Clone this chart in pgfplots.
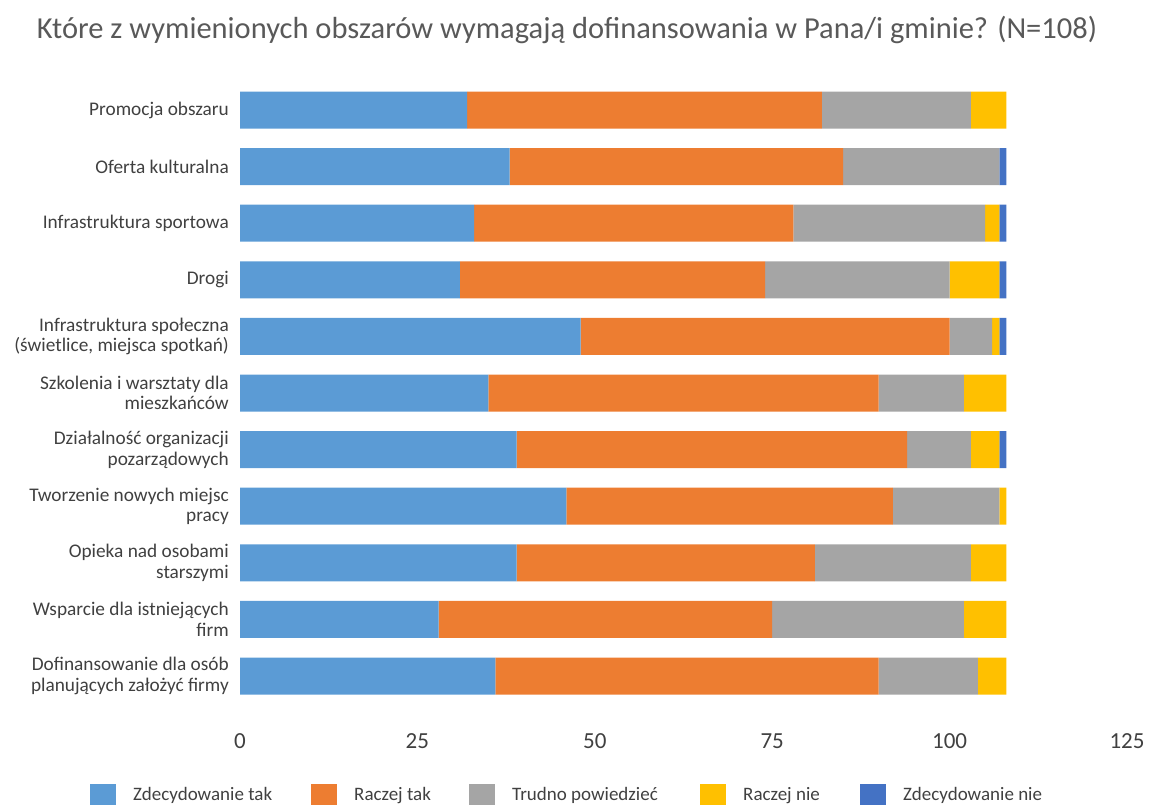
\documentclass[border=0pt]{standalone}
\usepackage{fontspec}
\setmainfont{Carlito}
\usepackage{pgfplots}
\pgfplotsset{compat=1.18}
\definecolor{cA}{HTML}{5B9BD5}
\definecolor{cB}{HTML}{ED7D31}
\definecolor{cC}{HTML}{A5A5A5}
\definecolor{cD}{HTML}{FFC000}
\definecolor{cE}{HTML}{4472C4}
\definecolor{titlegray}{HTML}{595959}
\definecolor{labgray}{HTML}{404040}
\begin{document}
\begin{tikzpicture}[x=1pt,y=1pt]
\useasboundingbox (0,0) rectangle (1150,804);
\node[text=titlegray, font=\fontsize{30.5}{34}\selectfont] at (567,774) {Które z wymienionych obszarów wymagają dofinansowania w Pana/i gminie? (N=108)};
\begin{axis}[
  at={(240pt,99.7pt)}, anchor=south west,
  scale only axis, width=887pt, height=622.6pt,
  xbar stacked, bar width=37pt,
  xmin=0, xmax=125, ymin=-0.5, ymax=10.5,
  y dir=reverse,
  axis line style={draw=none},
  major tick style={draw=none},
  xtick={0,25,50,75,100,125},
  ytick={0,1,2,3,4,5,6,7,8,9,10},
  yticklabels={
    Promocja obszaru,
    Oferta kulturalna,
    Infrastruktura sportowa,
    Drogi,
    {Infrastruktura społeczna\\(świetlice, miejsca spotkań)},
    {Szkolenia i warsztaty dla\\mieszkańców},
    {Działalność organizacji\\pozarządowych},
    {Tworzenie nowych miejsc\\pracy},
    {Opieka nad osobami\\starszymi},
    {Wsparcie dla istniejących\\firm},
    {Dofinansowanie dla osób\\planujących założyć firmy}},
  yticklabel style={align=right, inner sep=0pt, xshift=-11pt, text=labgray, font=\fontsize{19.3}{20.5}\selectfont},
  /pgf/number format/assume math mode=true,
  xticklabel style={anchor=center, yshift=-37pt, text=labgray, font=\fontsize{23}{26}\selectfont},
  legend columns=5,
  legend image code/.code={\fill[#1] (0pt,-11pt) rectangle (26pt,11pt);},
  legend style={draw=none, fill=none, at={(-0.1691,-0.1457)}, anchor=west, inner sep=0pt,
    nodes={inner sep=0pt, text=labgray, font=\fontsize{19}{22}\selectfont},
    /tikz/every odd column/.append style={column sep=17pt}},
]
\addplot[fill=cA, draw=none] coordinates {(32,0) (38,1) (33,2) (31,3) (48,4) (35,5) (39,6) (46,7) (39,8) (28,9) (36,10)};
\addplot[fill=cB, draw=none] coordinates {(50,0) (47,1) (45,2) (43,3) (52,4) (55,5) (55,6) (46,7) (42,8) (47,9) (54,10)};
\addplot[fill=cC, draw=none] coordinates {(21,0) (22,1) (27,2) (26,3) (6,4) (12,5) (9,6) (15,7) (22,8) (27,9) (14,10)};
\addplot[fill=cD, draw=none] coordinates {(5,0) (0,1) (2,2) (7,3) (1,4) (6,5) (4,6) (1,7) (5,8) (6,9) (4,10)};
\addplot[fill=cE, draw=none] coordinates {(0,0) (1,1) (1,2) (1,3) (1,4) (0,5) (1,6) (0,7) (0,8) (0,9) (0,10)};
\addlegendentry{\makebox[178pt][l]{Zdecydowanie tak}}
\addlegendentry{\makebox[115pt][l]{Raczej tak}}
\addlegendentry{\makebox[188pt][l]{Trudno powiedzieć}}
\addlegendentry{\makebox[117pt][l]{Raczej nie}}
\addlegendentry{Zdecydowanie nie}
\end{axis}
\end{tikzpicture}
\end{document}
